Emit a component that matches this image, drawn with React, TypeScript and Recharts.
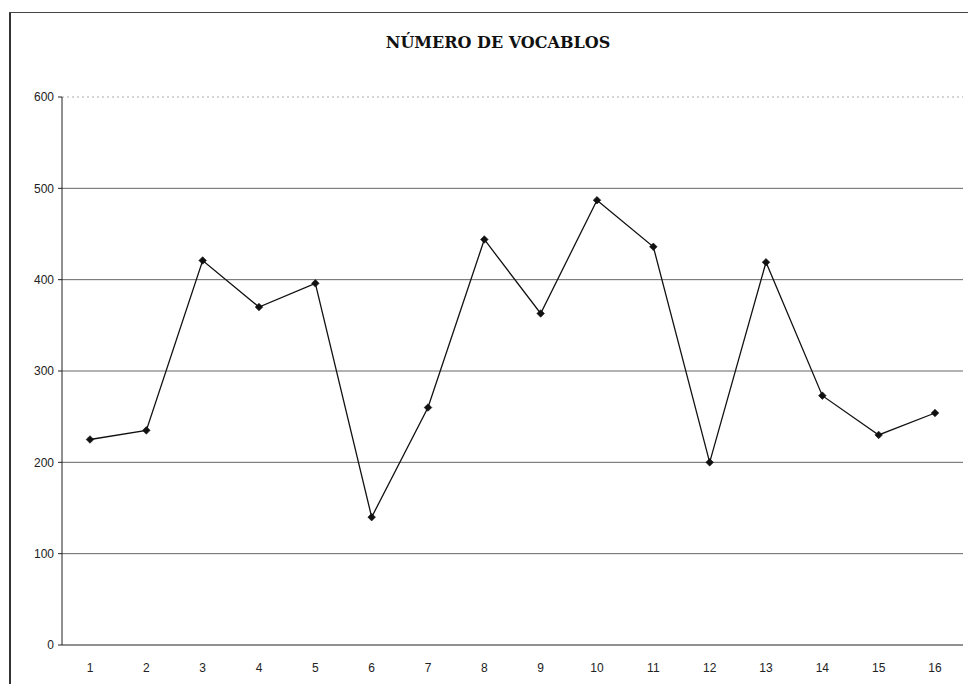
import React from "react";
import { LineChart, Line, XAxis, YAxis, CartesianGrid, ReferenceLine } from "recharts";

const categories = ["1", "2", "3", "4", "5", "6", "7", "8", "9", "10", "11", "12", "13", "14", "15", "16"];
const vocablos = [225, 235, 421, 370, 396, 140, 260, 444, 363, 487, 436, 200, 419, 273, 230, 254];
const yTicks = [0, 100, 200, 300, 400, 500, 600];
const gridLines = [100, 200, 300, 400, 500];

const data = categories.map((name, i) => ({ name, value: vocablos[i] }));

// diamond marker like the old Excel default
const Diamond = (props: any) => {
  const { cx, cy } = props;
  if (cx == null || cy == null) return null;
  const r = 3.8;
  return (
    <polygon
      points={`${cx},${cy - r} ${cx + r},${cy} ${cx},${cy + r} ${cx - r},${cy}`}
      fill="#111"
      stroke="#111"
      strokeWidth={0.6}
    />
  );
};

export default function App() {
  const tick = { fill: "#222", fontSize: 12, fontFamily: "Liberation Sans, Arial, sans-serif" };
  return (
    <div style={{ position: "relative", width: 976, height: 692, margin: -8, background: "#fff", overflow: "hidden" }}>
      <div
        style={{
          position: "absolute",
          left: 0,
          width: 996,
          top: 33,
          textAlign: "center",
          fontFamily: "DejaVu Serif, serif",
          fontWeight: "bold",
          fontSize: 16,
          color: "#111",
        }}
      >
        NÚMERO DE VOCABLOS
      </div>
      <div style={{ position: "absolute", left: 0, top: 0 }}>
        <LineChart width={976} height={692} data={data} margin={{ top: 97, right: 13, left: 2, bottom: 17 }}>
          <CartesianGrid vertical={false} horizontalValues={gridLines} stroke="#666" strokeWidth={1} />
          <ReferenceLine y={600} stroke="#aaa" strokeDasharray="2 3" />
          <XAxis
            dataKey="name"
            axisLine={{ stroke: "#222" }}
            tickLine={false}
            tickSize={0}
            tickMargin={18}
            tick={tick}
            interval={0}
            padding={{ left: 28, right: 28 }}
          />
          <YAxis
            domain={[0, 600]}
            ticks={yTicks}
            axisLine={{ stroke: "#222" }}
            tickLine={{ stroke: "#222" }}
            tickSize={4}
            tickMargin={4}
            tick={tick}
            width={60}
          />
          <Line
            type="linear"
            dataKey="value"
            stroke="#111"
            strokeWidth={1.3}
            dot={<Diamond />}
            activeDot={false}
            isAnimationActive={false}
          />
        </LineChart>
      </div>
      {/* frame of the scanned chart area: left and top edges */}
      <div style={{ position: "absolute", left: 9, top: 12, width: 1.5, height: 690, background: "#333", zIndex: 5 }} />
      <div style={{ position: "absolute", left: 9, top: 12, width: 980, height: 1, background: "#444", zIndex: 5 }} />
    </div>
  );
}
